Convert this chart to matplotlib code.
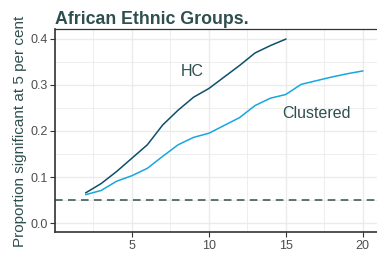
import numpy as np
import matplotlib.pyplot as plt
from matplotlib.ticker import MultipleLocator

plt.rcParams['font.family'] = ['Liberation Sans', 'DejaVu Sans']

# values
hc_x = [2, 3, 4, 5, 6, 7, 8, 9, 10, 11, 12, 13, 14, 15]
hc_y = [0.066, 0.086, 0.112, 0.141, 0.170, 0.213, 0.245, 0.273, 0.292,
        0.317, 0.342, 0.369, 0.385, 0.399]
cl_x = [2, 3, 4, 5, 6, 7, 8, 9, 10, 11, 12, 13, 14, 15, 16, 17, 18, 19, 20]
cl_y = [0.062, 0.071, 0.091, 0.103, 0.119, 0.145, 0.170, 0.186, 0.195,
        0.212, 0.229, 0.255, 0.271, 0.279, 0.301, 0.309, 0.317, 0.324, 0.330]
ref_level = 0.05

slate = '#2F4F4F'

fig = plt.figure(figsize=(3.77, 2.56), dpi=100)
ax = fig.add_axes([0.146, 0.092, 0.854, 0.793])

ax.plot(hc_x, hc_y, color='#0E4F6B', lw=1.1)
ax.plot(cl_x, cl_y, color='#17A6E0', lw=1.1)
ax.axhline(ref_level, color=slate, lw=1.1, dashes=(5, 3.5))

ax.text(8.95, 0.328, 'HC', color=slate, fontsize=11.5, ha='center', va='center')
ax.text(17.0, 0.238, 'Clustered', color=slate, fontsize=11.5, ha='center', va='center')

ax.set_xlim(0, 20.93)
ax.set_ylim(-0.02, 0.42)
ax.xaxis.set_major_locator(MultipleLocator(5))
ax.xaxis.set_minor_locator(MultipleLocator(2.5))
ax.yaxis.set_major_locator(MultipleLocator(0.1))
ax.yaxis.set_minor_locator(MultipleLocator(0.05))
ax.set_xticks([5, 10, 15, 20])
ax.grid(which='major', color='#EBEBEB', lw=1.0)
ax.grid(which='minor', color='#EBEBEB', lw=0.6)
ax.set_axisbelow(True)

ax.tick_params(which='major', length=3.5, width=0.8, color='#333333',
               labelsize=9, labelcolor='#4D4D4D', pad=2)
ax.tick_params(which='minor', length=0)
ax.yaxis.set_major_formatter(plt.FuncFormatter(lambda v, p: f'{v:.1f}'))

for s in ['left', 'bottom']:
    ax.spines[s].set_color('#333333')
    ax.spines[s].set_linewidth(1.2)
ax.spines['top'].set_color('#333333')
ax.spines['top'].set_linewidth(0.9)
ax.spines['right'].set_visible(False)

ax.set_ylabel('Proportion significant at 5 per cent', fontsize=11,
              color=slate, labelpad=2)
fig.text(0.146, 0.925, 'African Ethnic Groups.', fontsize=12.8,
         fontweight='bold', color=slate, ha='left', va='center')

fig.savefig('out.png', dpi=100)
